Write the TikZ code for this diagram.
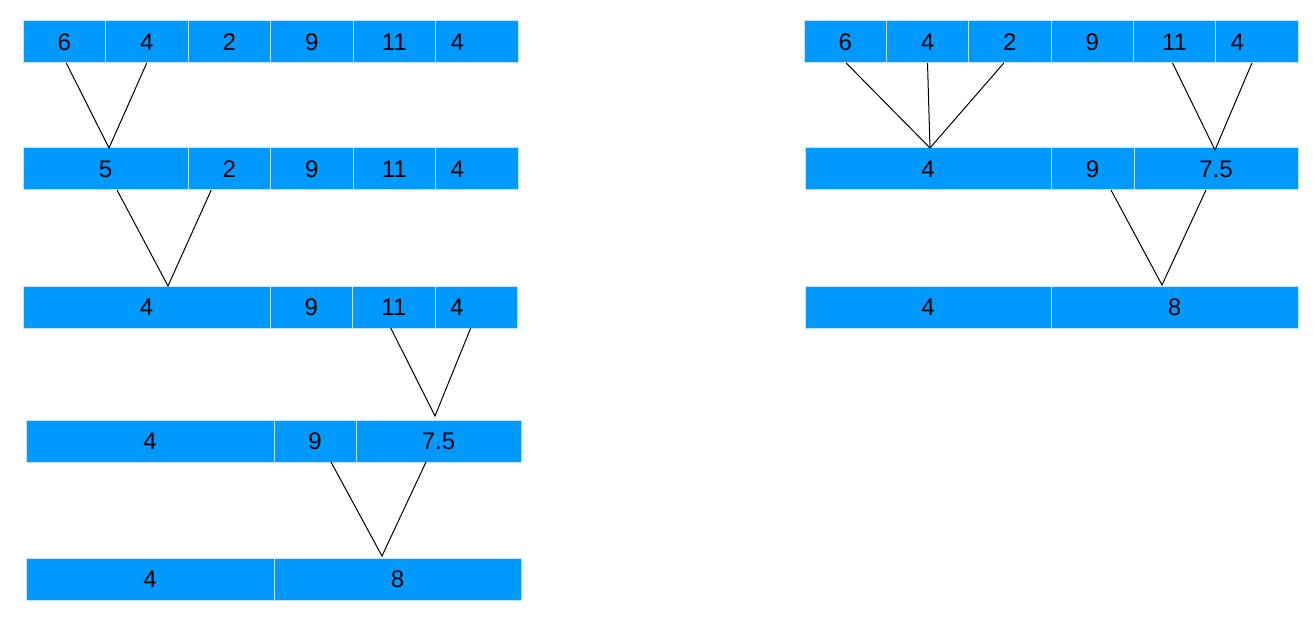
\documentclass[tikz,border=0pt]{standalone}
\usepackage{fontspec}
\setmainfont{Liberation Sans}
\usetikzlibrary{positioning, calc}
\definecolor{cellblue}{HTML}{0099FF}

\begin{document}
\begin{tikzpicture}[
    x=0.5pt, y=-0.5pt,
    node distance = 0pt,
    cell/.style     = {rectangle, draw=white!75!cellblue, line width=0.5pt, fill=cellblue,
                       minimum height=21pt, inner sep=0pt, outer sep=0pt, anchor=north west,
                       font=\fontsize{12}{14}\selectfont},
    lastcell/.style = {cell, text width=26.25pt, inner xsep=7.5pt, align=left},
    link/.style     = {draw=black, line width=0.5pt},
]
\useasboundingbox (0,0) rectangle (1313,626);

% left column of merges
\node[cell, minimum width=41.25pt] at (23,21)  (l11) {6};
\node[cell, minimum width=41.25pt, right=of l11] (l12) {4};
\node[cell, minimum width=41.25pt, right=of l12] (l13) {2};
\node[cell, minimum width=41.25pt, right=of l13] (l14) {9};
\node[cell, minimum width=41.25pt, right=of l14] (l15) {11};
\node[lastcell, right=of l15]                    (l16) {4};

\node[cell, minimum width=82.5pt] at (23,148)  (l21) {5};
\node[cell, minimum width=41.25pt, right=of l21] (l22) {2};
\node[cell, minimum width=41.25pt, right=of l22] (l23) {9};
\node[cell, minimum width=41.25pt, right=of l23] (l24) {11};
\node[lastcell, right=of l24]                    (l25) {4};

\node[cell, minimum width=123.5pt] at (23,286) (l31) {4};
\node[cell, minimum width=41.25pt, right=of l31] (l32) {9};
\node[cell, minimum width=41.25pt, right=of l32] (l33) {11};
\node[lastcell, right=of l33]                    (l34) {4};

\node[cell, minimum width=124pt] at (26,420)   (l41) {4};
\node[cell, minimum width=41pt, right=of l41]    (l42) {9};
\node[cell, minimum width=82.5pt, right=of l42]  (l43) {7.5};

\node[cell, minimum width=124pt] at (26,558)   (l51) {4};
\node[cell, minimum width=123.5pt, right=of l51] (l52) {8};

% right column of merges
\node[cell, minimum width=41.17pt] at (804,21) (r11) {6};
\node[cell, minimum width=41.17pt, right=of r11] (r12) {4};
\node[cell, minimum width=41.17pt, right=of r12] (r13) {2};
\node[cell, minimum width=41.17pt, right=of r13] (r14) {9};
\node[cell, minimum width=41.17pt, right=of r14] (r15) {11};
\node[lastcell, right=of r15]                    (r16) {4};

\node[cell, minimum width=123pt] at (805,148)  (r21) {4};
\node[cell, minimum width=41.5pt, right=of r21]  (r22) {9};
\node[cell, minimum width=82pt, right=of r22]    (r23) {7.5};

\node[cell, minimum width=123pt] at (805,286)  (r31) {4};
\node[cell, minimum width=123.5pt, right=of r31] (r32) {8};

% meeting points
\coordinate (lm1) at ($(l21.north)+(3.5,0)$);
\coordinate (lm2) at ($(l31.north)+(21.5,0)$);
\coordinate (lm3) at ($(l43.north)+(-3.5,-4)$);
\coordinate (lm4) at ($(l52.north)+(-15.5,-2)$);
\coordinate (rm1) at ($(r21.north)+(2,0)$);
\coordinate (rm2) at ($(r23.north)+(-1,2)$);
\coordinate (rm3) at ($(r32.north)+(-12.5,-1)$);

\draw[link] ($(l11.south)+(2,0)$)     -- (lm1) -- (l12.south);
\draw[link] ($(l21.south)+(11.5,0)$)  -- (lm2) -- ($(l22.south)+(-18,0)$);
\draw[link] ($(l33.south)+(-3,0)$)    -- (lm3) -- ($(l34.south)+(-5.5,0)$);
\draw[link] ($(l42.south)+(16,0)$)    -- (lm4) -- ($(l43.south)+(-12.5,0)$);

\draw[link] ($(r11.south)+(1,0)$) -- (rm1);
\draw[link] (r12.south)            -- (rm1);
\draw[link] ($(r13.south)+(-6,0)$) -- (rm1);
\draw[link] ($(r15.south)+(-2,0)$) -- (rm2) -- ($(r16.south)+(-5,0)$);
\draw[link] ($(r22.south)+(18.5,0)$) -- (rm3) -- ($(r23.south)+(-10,0)$);

\end{tikzpicture}
\end{document}
